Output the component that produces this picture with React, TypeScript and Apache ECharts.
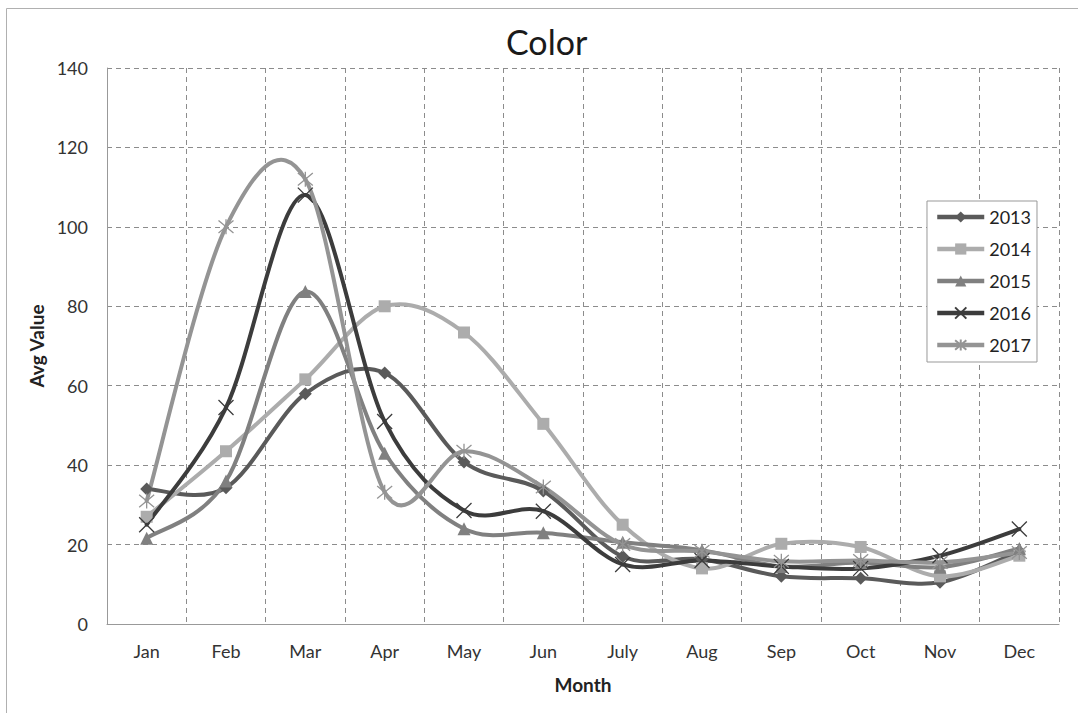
import React, { useEffect, useRef } from "react";
import * as echarts from "echarts";

const months = ["Jan", "Feb", "Mar", "Apr", "May", "Jun", "July", "Aug", "Sep", "Oct", "Nov", "Dec"];
const years = ["2013", "2014", "2015", "2016", "2017"];
const v2013 = [34, 34.3, 58, 63.2, 40.8, 33.5, 17, 16.3, 12, 11.5, 10.5, 18.3];
const v2014 = [27, 43.5, 61.6, 80, 73.4, 50.4, 25, 14, 20.2, 19.4, 12, 17.2];
const v2015 = [21.6, 36, 83.7, 43, 24, 23, 20.6, 18.6, 14.5, 15.5, 14.3, 19];
const v2016 = [25, 54.5, 108, 51, 28.6, 28.4, 15, 16, 14.5, 14, 17.2, 23.9];
const v2017 = [31, 100, 112, 33.2, 43.5, 34.5, 20, 18.3, 15.8, 16, 15.5, 18];
const yTicks = [0, 20, 40, 60, 80, 100, 120, 140];

const colors = ["#5a5a5a", "#acacac", "#808080", "#3c3c3c", "#949494"];
const symbols = [
  "diamond",
  "rect",
  "triangle",
  "path://M0,0L10,10M10,0L0,10",
  "path://M0,0L10,10M10,0L0,10M5,-1L5,11",
];
const sizes = [13, 12, 13, 15, 15];
const allValues = [v2013, v2014, v2015, v2016, v2017];

export default function App() {
  const ref = useRef<HTMLDivElement>(null);
  useEffect(() => {
    if (!ref.current) return;
    const chart = echarts.init(ref.current, null, { renderer: "svg" });
    const font = "Lato, 'Noto Sans', sans-serif";
    const series: any[] = [];
    years.forEach((y, k) => {
      const arr = allValues[k];
      series.push({
        name: y,
        type: "line",
        data: arr,
        symbol: symbols[k],
        symbolSize: sizes[k],
        showSymbol: true,
        lineStyle: { width: 0, opacity: 0, color: colors[k] },
        itemStyle: {
          color: colors[k],
          borderColor: colors[k],
          borderWidth: k >= 3 ? 1.3 : 0,
        },
        z: 3,
      });
      series.push({
        name: y,
        type: "custom",
        data: arr.map((v, i) => [i, v]),
        encode: { x: 0, y: 1 },
        z: 2,
        silent: true,
        itemStyle: { color: colors[k] },
        renderItem: (params: any, api: any) => {
          const i = params.dataIndex;
          const n = arr.length;
          if (i >= n - 1) return null;
          const c = (j: number) => {
            const jj = Math.max(0, Math.min(n - 1, j));
            return api.coord([jj, arr[jj]]);
          };
          const P0 = c(i - 1);
          const P1 = c(i);
          const P2 = c(i + 1);
          const P3 = c(i + 2);
          const t = 1 / 6;
          return {
            type: "bezierCurve",
            shape: {
              x1: P1[0],
              y1: P1[1],
              x2: P2[0],
              y2: P2[1],
              cpx1: P1[0] + (P2[0] - P0[0]) * t,
              cpy1: P1[1] + (P2[1] - P0[1]) * t,
              cpx2: P2[0] - (P3[0] - P1[0]) * t,
              cpy2: P2[1] - (P3[1] - P1[1]) * t,
            },
            style: { stroke: colors[k], lineWidth: 4, fill: null, lineCap: "round" },
          };
        },
      });
    });
    chart.setOption({
      animation: false,
      backgroundColor: "#ffffff",
      textStyle: { fontFamily: font },
      title: {
        text: "Color",
        left: 501,
        top: 19,
        textStyle: { fontSize: 34, fontWeight: "normal", color: "#1a1a1a", fontFamily: font },
      },
      graphic: [
        {
          type: "rect",
          shape: { x: 6.5, y: 8.5, width: 1100, height: 800 },
          style: { fill: "none", stroke: "#b0b0b0", lineWidth: 1 },
          silent: true,
          z: -1,
        },
      ],
      legend: {
        orient: "vertical",
        right: 41,
        top: 201,
        itemWidth: 47,
        itemHeight: 14,
        itemGap: 14,
        padding: [7, 6, 8, 8],
        borderColor: "#999999",
        borderWidth: 1,
        backgroundColor: "#ffffff",
        textStyle: { fontSize: 18, color: "#222222", fontFamily: font },
        data: years.map((y, k) => ({
          name: y,
          lineStyle: { color: colors[k], width: 4.5, opacity: 1 },
        })),
      },
      grid: { left: 107, right: 19, top: 68, bottom: 89, containLabel: false },
      xAxis: {
        type: "category",
        data: months,
        boundaryGap: true,
        name: "Month",
        nameLocation: "middle",
        nameGap: 51,
        nameTextStyle: { fontSize: 19, fontWeight: "bold", color: "#222222", fontFamily: font },
        axisLine: { show: true, lineStyle: { color: "#999999", width: 1 } },
        axisTick: { show: false },
        axisLabel: { fontSize: 18, color: "#333333", margin: 18, fontFamily: font },
        splitLine: { show: true, lineStyle: { color: "#8c8c8c", type: [5, 4], width: 1 } },
      },
      yAxis: {
        type: "value",
        min: 0,
        max: 140,
        interval: 20,
        name: "Avg Value",
        nameLocation: "middle",
        nameGap: 60,
        nameTextStyle: { fontSize: 19, fontWeight: "bold", color: "#222222", fontFamily: font },
        axisLine: { show: true, lineStyle: { color: "#999999", width: 1 } },
        axisTick: { show: false },
        axisLabel: {
          fontSize: 18,
          color: "#333333",
          margin: 19,
          fontFamily: font,
          formatter: (v: number) => (yTicks.includes(v) ? String(v) : ""),
        },
        splitLine: { show: true, lineStyle: { color: "#8c8c8c", type: [5, 4], width: 1 } },
      },
      series,
    });
    return () => chart.dispose();
  }, []);
  return (
    <div
      ref={ref}
      style={{ position: "absolute", left: 0, top: 0, width: 1078, height: 713 }}
    />
  );
}
